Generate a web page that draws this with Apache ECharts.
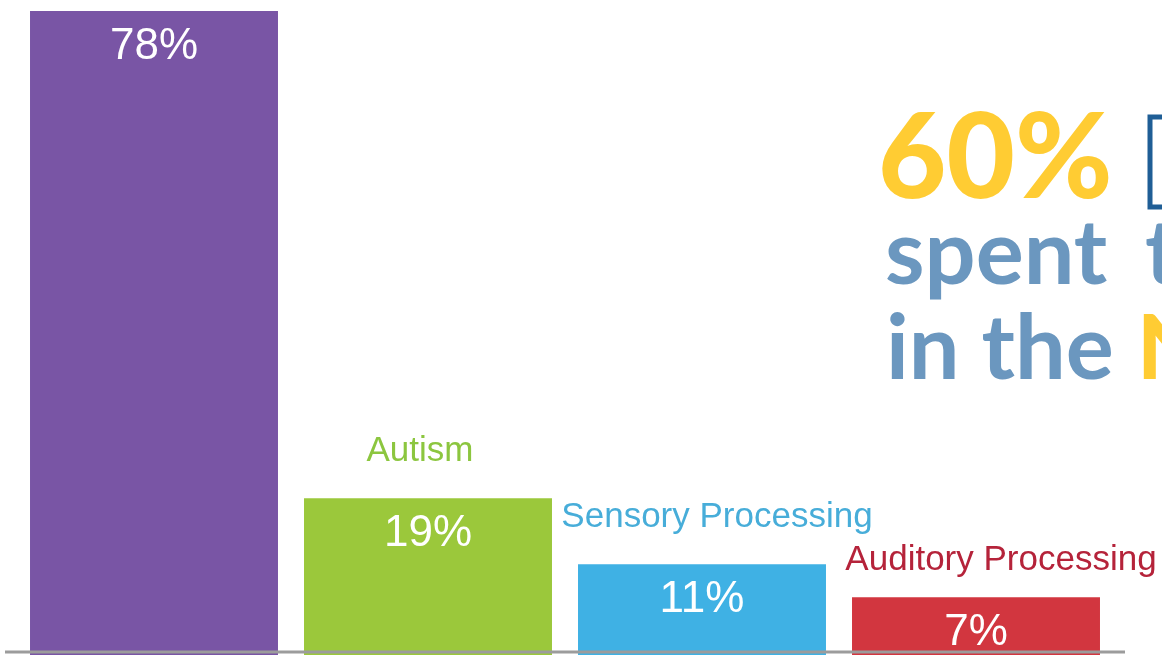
<!DOCTYPE html>
<html>
<head>
<meta charset="utf-8">
<script src="https://cdn.jsdelivr.net/npm/echarts@6/dist/echarts.min.js"></script>
<style>
html,body{margin:0;padding:0;background:#fff;}
#chart{width:1162px;height:655px;}
</style>
</head>
<body>
<div id="chart"></div>
<script>
// ---- data ----
const categories = ['', 'Autism', 'Sensory Processing', 'Auditory Processing'];
const values = [78, 19, 11, 7];
const overlayWords = ['60%', 'spent', 't', 'in the', 'N'];

// ---- styles ----
const barColors = ['#7955A5', '#9BC83B', '#3FB1E4', '#D2363F'];
const nameColors = ['#7955A5', '#8CC63F', '#47ADD9', '#B5233A'];
const nameOffsets = [[0, 0], [-8, 0], [15, 0], [25, 10]];

const chart = echarts.init(document.getElementById('chart'));
chart.setOption({
  animation: false,
  backgroundColor: '#ffffff',
  grid: { left: 17, right: 49, top: 11, bottom: -1, containLabel: false },
  xAxis: { type: 'category', data: categories, show: false },
  yAxis: { type: 'value', min: 0, max: 78, show: false },
  series: [
    {
      type: 'bar',
      barCategoryGap: '9.5%',
      data: values.map((v, i) => ({ value: v, itemStyle: { color: barColors[i] } })),
      label: {
        show: true, position: 'insideTop', distance: 14,
        formatter: p => p.value + '%',
        color: '#ffffff', fontSize: 44,
        fontFamily: 'Liberation Sans, Arial, sans-serif'
      },
      z: 2
    },
    {
      type: 'bar',
      barGap: '-100%',
      barCategoryGap: '9.5%',
      data: values.map((v, i) => ({
        value: v,
        itemStyle: { color: 'rgba(0,0,0,0)' },
        label: { show: i > 0, color: nameColors[i], offset: nameOffsets[i] }
      })),
      label: {
        position: 'top', distance: 29,
        formatter: p => categories[p.dataIndex],
        fontSize: 35,
        fontFamily: 'Liberation Sans, Arial, sans-serif'
      },
      z: 3
    }
  ],
  graphic: [
    { type: 'line', shape: { x1: 5, y1: 652, x2: 1125, y2: 652 },
      style: { stroke: '#9C9C9C', lineWidth: 3 }, z: 10 },
    { type: 'text', left: 878, top: 101, z: 20,
      style: { text: overlayWords[0], fill: '#FFCC33', font: '900 118px Lato, sans-serif' } },
    { type: 'rect', shape: { x: 1150, y: 117, width: 40, height: 90 },
      style: { fill: 'rgba(0,0,0,0)', stroke: '#1F5E96', lineWidth: 5 }, z: 20 },
    { type: 'text', left: 885, top: 210, z: 20,
      style: { text: overlayWords[1], fill: '#6B97BF', font: '700 90px Lato, sans-serif' } },
    { type: 'text', left: 1145, top: 210, z: 20,
      style: { text: overlayWords[2], fill: '#6B97BF', font: '700 90px Lato, sans-serif' } },
    { type: 'text', left: 886, top: 305, z: 20,
      style: { text: overlayWords[3], fill: '#6B97BF', font: '700 90px Lato, sans-serif' } },
    { type: 'text', left: 1137, top: 305, z: 20,
      style: { text: overlayWords[4], fill: '#FFCC33', font: '900 90px Lato, sans-serif' } }
  ]
});
</script>
</body>
</html>
